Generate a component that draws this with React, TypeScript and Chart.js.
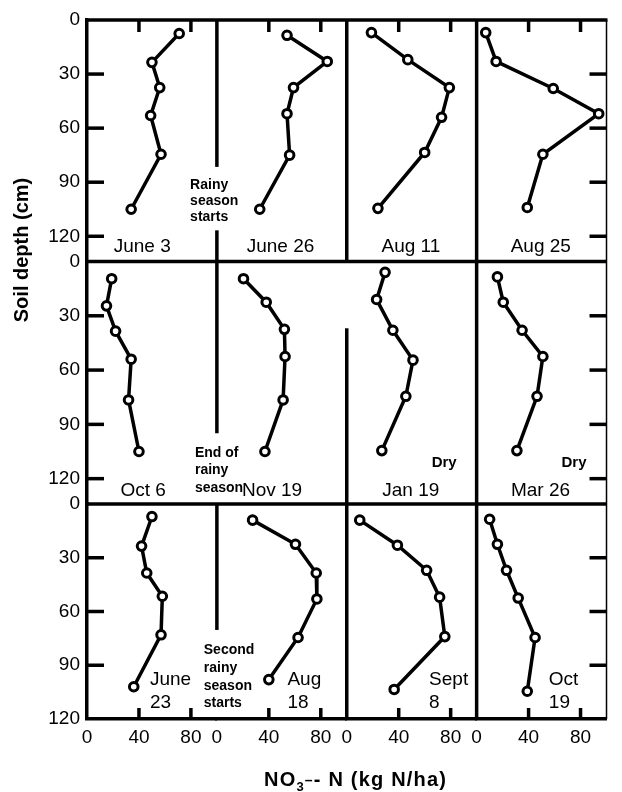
import { useEffect, useRef } from "react";
import { Chart, registerables } from "chart.js";

Chart.register(...registerables);

const FONT = "'Liberation Sans', Arial, Helvetica, sans-serif";

// ---- tick labels ----
const depthTicks = [0, 30, 60, 90, 120];
const nTicks = [0, 40, 80];

// ---- data: NO3- N (kg N/ha) and sampling depth (cm) per panel ----
// Row 1
const june3N = [71, 50, 56, 49, 57, 34];
const june3Depth = [7.5, 23.5, 37.5, 53, 74.5, 105];
const june26N = [54, 85, 59, 54, 56, 33];
const june26Depth = [8.5, 23, 37.5, 52, 75, 105];
const aug11N = [19, 47, 79, 73, 60, 24];
const aug11Depth = [7, 22, 37.5, 54, 73.5, 104.5];
const aug25N = [7, 15, 59, 94, 51, 39];
const aug25Depth = [7, 23, 38, 52, 74.5, 104];
// Row 2
const oct6N = [19, 15, 22, 34, 32, 40];
const oct6Depth = [9.5, 24.5, 38.5, 54, 76.5, 105];
const nov19N = [20.5, 38, 52, 52.5, 51, 37];
const nov19Depth = [9.5, 22.5, 37.5, 52.5, 76.5, 105];
const jan19N = [29.5, 23, 35.5, 51, 45.5, 27];
const jan19Depth = [6, 21, 38, 54.5, 74.5, 104.5];
const mar26N = [16, 20.5, 35, 51, 46.5, 31];
const mar26Depth = [8.5, 22.5, 38, 52.5, 74.5, 104.5];
// Row 3
const june23N = [50, 42, 46, 58, 57, 36];
const june23Depth = [7, 23.5, 38.5, 51.5, 73, 102];
const aug18N = [27.5, 60.5, 76.5, 77, 62.5, 40];
const aug18Depth = [9, 22.5, 38.5, 53, 74.5, 98];
const sept8N = [10, 39, 61.5, 71.5, 75.5, 36.5];
const sept8Depth = [9, 23, 37, 52, 74, 103.5];
const oct19N = [10, 16, 23, 32, 45, 39];
const oct19Depth = [8.5, 22.5, 37, 52.5, 74.5, 104.5];

const panelN = [june3N, june26N, aug11N, aug25N, oct6N, nov19N, jan19N, mar26N, june23N, aug18N, sept8N, oct19N];
const panelDepth = [
  june3Depth, june26Depth, aug11Depth, aug25Depth,
  oct6Depth, nov19Depth, jan19Depth, mar26Depth,
  june23Depth, aug18Depth, sept8Depth, oct19Depth,
];

// ---- texts ----
const dateLabels = [
  "June 3", "June 26", "Aug 11", "Aug 25",
  "Oct 6", "Nov 19", "Jan 19", "Mar 26",
  "June\n23", "Aug\n18", "Sept\n8", "Oct\n19",
];
const noteTexts = ["Rainy\nseason\nstarts", "End of\nrainy\nseason", "Second\nrainy\nseason\nstarts"];
const dryText = "Dry";
const yTitle = "Soil depth (cm)";

// ---- layout (in axis units) ----
const COLS = ["x1", "x2", "x3", "x4"];
const ROWS = ["y1", "y2", "y3"];
const dateSpots = [
  { x: 42.5, y: 128.6, align: "center" }, { x: 49, y: 128.6, align: "center" },
  { x: 49.4, y: 128.6, align: "center" }, { x: 49.4, y: 128.6, align: "center" },
  { x: 43.2, y: 129.6, align: "center" }, { x: 42.5, y: 129.6, align: "center" },
  { x: 49.3, y: 129.6, align: "center" }, { x: 49.2, y: 129.6, align: "center" },
  { x: 48.5, y: 101, align: "left" }, { x: 54.3, y: 101, align: "left" },
  { x: 63.4, y: 101, align: "left" }, { x: 55.6, y: 101, align: "left" },
];
const noteSpots = [
  { col: "x1", row: "y1", x: 79.4, y: 93.5, lh: 16.3 },
  { col: "x1", row: "y2", x: 83.1, y: 107.8, lh: 17.5 },
  { col: "x1", row: "y3", x: 89.9, y: 83.9, lh: 17.7 },
];
const drySpots = [
  { col: "x3", row: "y2", x: 75, y: 113.5 },
  { col: "x4", row: "y2", x: 75, y: 113.5 },
];
const dividers = [
  { col: "x2", row: "y1", from: 0, to: 81.5 },
  { col: "x2", row: "y1", from: 116.7, to: 134 },
  { col: "x2", row: "y2", from: 0, to: 94.9 },
  { col: "x2", row: "y3", from: 0, to: 70.3 },
  { col: "x3", row: "y1", from: 0, to: 134 },
  { col: "x3", row: "y2", from: 36.9, to: 134 },
  { col: "x3", row: "y3", from: 0, to: 120 },
  { col: "x4", row: "y1", from: 0, to: 134 },
  { col: "x4", row: "y2", from: 0, to: 134 },
  { col: "x4", row: "y3", from: 0, to: 120 },
];

function strokeLine(ctx: CanvasRenderingContext2D, x1: number, y1: number, x2: number, y2: number, w: number) {
  ctx.lineWidth = w;
  ctx.beginPath();
  ctx.moveTo(x1, y1);
  ctx.lineTo(x2, y2);
  ctx.stroke();
}

const framePlugin = {
  id: "frame",
  beforeDatasetsDraw(chart: any) {
    const ctx: CanvasRenderingContext2D = chart.ctx;
    const ca = chart.chartArea;
    const S = chart.scales;
    ctx.save();
    ctx.strokeStyle = "#000";
    ctx.lineCap = "butt";
    strokeLine(ctx, ca.left - 1.5, ca.top, ca.right + 1, ca.top, 3.5);
    strokeLine(ctx, ca.right, ca.top, ca.right, ca.bottom, 1.5);
    strokeLine(ctx, ca.left, S.y1.bottom, ca.right, S.y1.bottom, 3.5);
    strokeLine(ctx, ca.left, S.y2.bottom, ca.right, S.y2.bottom, 3.5);
    for (const d of dividers) {
      const x = S[d.col].left;
      const ys = S[d.row];
      strokeLine(ctx, x, ys.getPixelForValue(d.from), x, ys.getPixelForValue(d.to), 3.5);
    }
    // inward ticks left / right
    for (const r of ROWS) {
      const ys = S[r];
      for (const v of depthTicks) {
        if (v === 0) continue;
        const py = ys.getPixelForValue(v);
        if (py > ca.bottom - 3) continue;
        strokeLine(ctx, ca.left, py, ca.left + 17, py, 3.5);
        strokeLine(ctx, ca.right - 17, py, ca.right, py, 3.5);
      }
    }
    // inward ticks top / bottom
    for (const c of COLS) {
      const xs = S[c];
      for (const v of nTicks) {
        if (v === 0) continue;
        const px = xs.getPixelForValue(v);
        strokeLine(ctx, px, ca.top, px, ca.top + 12, 3.5);
        strokeLine(ctx, px, ca.bottom - 11, px, ca.bottom, 3.5);
      }
    }
    ctx.restore();
  },
  afterDatasetsDraw(chart: any) {
    const ctx: CanvasRenderingContext2D = chart.ctx;
    const S = chart.scales;
    ctx.save();
    ctx.fillStyle = "#000";
    ctx.textBaseline = "alphabetic";
    // date labels
    ctx.font = `19px ${FONT}`;
    dateLabels.forEach((txt, i) => {
      const spot = dateSpots[i];
      const xs = S[COLS[i % 4]];
      const ys = S[ROWS[Math.floor(i / 4)]];
      ctx.textAlign = spot.align as CanvasTextAlign;
      const x = xs.getPixelForValue(spot.x);
      const y = ys.getPixelForValue(spot.y);
      txt.split("\n").forEach((line, k) => ctx.fillText(line, x, y + k * 23));
    });
    // notes
    ctx.font = `bold 14px ${FONT}`;
    ctx.textAlign = "left";
    noteTexts.forEach((txt, i) => {
      const s = noteSpots[i];
      const x = S[s.col].getPixelForValue(s.x);
      const y = S[s.row].getPixelForValue(s.y);
      txt.split("\n").forEach((line, k) => ctx.fillText(line, x, y + k * s.lh));
    });
    // Dry
    ctx.font = `bold 15px ${FONT}`;
    ctx.textAlign = "center";
    for (const s of drySpots) {
      ctx.fillText(dryText, S[s.col].getPixelForValue(s.x), S[s.row].getPixelForValue(s.y));
    }
    // y title
    ctx.save();
    ctx.font = `bold 20px ${FONT}`;
    ctx.textAlign = "center";
    ctx.textBaseline = "middle";
    ctx.translate(22, 250);
    ctx.rotate(-Math.PI / 2);
    ctx.fillText(yTitle, 0, 0);
    ctx.restore();
    // x title with subscript / superscript
    const pieces = [
      { t: "NO", size: 20, dy: 0 },
      { t: "3", size: 13, dy: 5 },
      { t: "\u2013", size: 14, dy: -1.5 },
      { t: "- N (kg N/ha)", size: 20, dy: 0 },
    ];
    const spacing = 1.2;
    let total = 0;
    for (const p of pieces) {
      ctx.font = `bold ${p.size}px ${FONT}`;
      for (const ch of p.t) total += ctx.measureText(ch).width + spacing;
    }
    total -= spacing;
    let x = 355 - total / 2;
    const base = 786;
    ctx.textAlign = "left";
    for (const p of pieces) {
      ctx.font = `bold ${p.size}px ${FONT}`;
      for (const ch of p.t) {
        ctx.fillText(ch, x, base + p.dy);
        x += ctx.measureText(ch).width + spacing;
      }
    }
    ctx.restore();
  },
};

function xScale() {
  return {
    type: "linear",
    position: "bottom",
    stack: "cols",
    stackWeight: 1,
    min: 0,
    max: 100,
    afterBuildTicks: (s: any) => {
      s.ticks = nTicks.map((v) => ({ value: v }));
    },
    afterFit: (s: any) => {
      s.height = 73;
    },
    grid: { display: false, drawTicks: false },
    border: { display: true, width: 3.5, color: "#000" },
    ticks: { autoSkip: false, maxRotation: 0, padding: 7, color: "#000", font: { family: FONT, size: 19 } },
  };
}

function yScale(max: number, weight: number) {
  return {
    type: "linear",
    position: "left",
    stack: "rows",
    stackWeight: weight,
    reverse: true,
    min: 0,
    max,
    afterBuildTicks: (s: any) => {
      s.ticks = depthTicks.map((v) => ({ value: v }));
    },
    afterFit: (s: any) => {
      s.width = 87;
    },
    grid: { display: false, drawTicks: false },
    border: { display: true, width: 3.5, color: "#000" },
    ticks: { autoSkip: false, padding: 7, color: "#000", font: { family: FONT, size: 19 } },
  };
}

export default function App() {
  const ref = useRef<HTMLCanvasElement>(null);
  useEffect(() => {
    const canvas = ref.current;
    if (!canvas) return;
    const datasets = panelN.map((n, i) => ({
      label: dateLabels[i],
      data: n.map((v, k) => ({ x: v, y: panelDepth[i][k] })),
      xAxisID: COLS[i % 4],
      yAxisID: ROWS[Math.floor(i / 4)],
      showLine: true,
      borderColor: "#000",
      borderWidth: 3.5,
      pointRadius: 4.3,
      pointBorderWidth: 3,
      pointBackgroundColor: "#fff",
      pointBorderColor: "#000",
      clip: false,
    }));
    const chart = new Chart(canvas, {
      type: "scatter",
      data: { datasets } as any,
      options: {
        responsive: false,
        animation: false,
        devicePixelRatio: 1,
        layout: { padding: { top: 20, right: 1, left: 0, bottom: 0 } },
        plugins: { legend: { display: false }, tooltip: { enabled: false } },
        scales: {
          x1: xScale(),
          x2: xScale(),
          x3: xScale(),
          x4: xScale(),
          y3: yScale(120, 215),
          y2: yScale(134, 242.5),
          y1: yScale(134, 241.5),
        } as any,
      },
      plugins: [framePlugin],
    });
    return () => chart.destroy();
  }, []);
  return (
    <div style={{ position: "absolute", left: 0, top: 0, width: 622, height: 792, background: "#fff" }}>
      <canvas ref={ref} width={622} height={792} style={{ display: "block" }} />
    </div>
  );
}
